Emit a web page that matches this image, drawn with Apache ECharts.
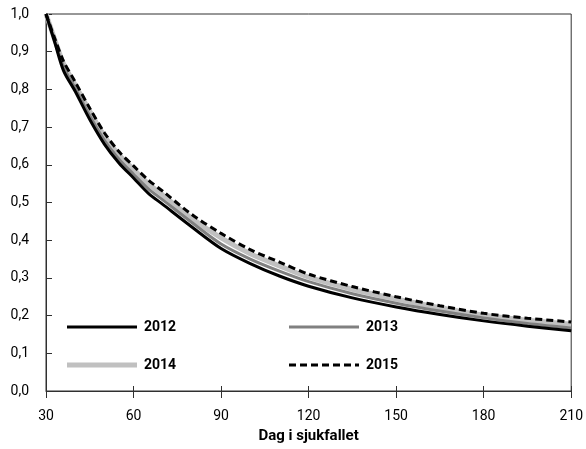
<!DOCTYPE html>
<html>
<head>
<meta charset="utf-8">
<script src="https://cdn.jsdelivr.net/npm/echarts@6/dist/echarts.min.js"></script>
<style>html,body{margin:0;padding:0;background:#fff}#c{width:586px;height:449px}</style>
</head>
<body>
<div id="c"></div>
<script>
var days = [30,33,36,40,45,50,55,60,65,70,80,90,100,110,120,135,150,165,180,195,210];
var s2012 = [1.0,0.925,0.85,0.795,0.72,0.655,0.605,0.565,0.525,0.495,0.435,0.378,0.338,0.305,0.278,0.247,0.223,0.203,0.186,0.172,0.160];
var s2013 = [1.0,0.928,0.86,0.803,0.73,0.665,0.615,0.575,0.537,0.507,0.447,0.39,0.35,0.318,0.29,0.258,0.233,0.212,0.194,0.179,0.167];
var s2014 = [1.0,0.932,0.868,0.812,0.742,0.676,0.626,0.588,0.55,0.52,0.458,0.406,0.364,0.332,0.302,0.270,0.244,0.221,0.201,0.188,0.177];
var s2015 = [1.0,0.935,0.875,0.82,0.75,0.685,0.635,0.597,0.56,0.53,0.468,0.418,0.375,0.342,0.31,0.277,0.25,0.226,0.206,0.193,0.183];
var xTicks = [30,60,90,120,150,180,210];
var yMin = 0, yMax = 1, yStep = 0.1;
var xTitle = 'Dag i sjukfallet';

function pairs(arr){ return days.map(function(d,i){ return [d, arr[i]]; }); }
var FONT = "Roboto,'Liberation Sans Narrow',sans-serif";
var chart = echarts.init(document.getElementById('c'), null, {renderer:'canvas'});
var DASH = 'path://M0,0h7v3h-7z M11,0h7v3h-7z M22,0h7v3h-7z M33,0h7v3h-7z M44,0h7v3h-7z M55,0h7v3h-7z M66,0h4v3h-4z';
function leg(name, left, top, icon, h, color){
  return {data:[{name:name, icon:icon}], left:left, top:top, padding:0, itemWidth:70, itemHeight:h,
    selectedMode:false, itemStyle:{color:color, borderWidth:0}, lineStyle:{width:0, opacity:0},
    textStyle:{fontFamily:FONT, fontWeight:'bold', fontSize:14, color:'#000', padding:[0,0,0,2]}};
}
var option = {
  animation:false,
  backgroundColor:'#fff',
  grid:{left:46, right:11, top:14, bottom:57, show:true, borderColor:'#303030', borderWidth:1},
  legend:[leg('2012',67,320,'rect',3,'#000'), leg('2013',289,320,'rect',3,'#808080'),
          leg('2014',67,358,'rect',5,'#c0c0c0'), leg('2015',289,358,DASH,3,'#000')],
  xAxis:[{
    type:'value', min:xTicks[0], max:xTicks[xTicks.length-1], interval:30,
    name:xTitle, nameLocation:'middle', nameGap:38,
    nameTextStyle:{fontFamily:FONT, fontWeight:'bold', fontSize:15, color:'#000'},
    axisLine:{lineStyle:{color:'#303030', width:1}},
    axisTick:{show:true, length:7, lineStyle:{color:'#303030'}},
    axisLabel:{fontFamily:FONT, fontSize:14, color:'#000', margin:18},
    splitLine:{show:false}
  },{
    type:'value', min:xTicks[0], max:xTicks[xTicks.length-1], interval:30, position:'bottom',
    axisLine:{show:false}, axisLabel:{show:false},
    axisTick:{show:true, inside:true, length:5, lineStyle:{color:'#303030'}},
    splitLine:{show:false}
  }],
  yAxis:{
    type:'value', min:yMin, max:yMax, interval:yStep,
    axisLine:{show:true, lineStyle:{color:'#303030', width:1}},
    axisTick:{show:true, inside:true, length:6, lineStyle:{color:'#303030'}},
    axisLabel:{fontFamily:FONT, fontSize:14, color:'#000', margin:17,
      formatter:function(v){ return v.toFixed(1).replace('.', ','); }},
    splitLine:{show:false}
  },
  series:[
    {name:'2014', type:'line', data:pairs(s2014), symbol:'none', smooth:0.3, lineStyle:{color:'#c0c0c0', width:5}, itemStyle:{color:'#c0c0c0'}, z:2},
    {name:'2013', type:'line', data:pairs(s2013), symbol:'none', smooth:0.3, lineStyle:{color:'#808080', width:3}, itemStyle:{color:'#808080'}, z:3},
    {name:'2012', type:'line', data:pairs(s2012), symbol:'none', smooth:0.3, lineStyle:{color:'#000', width:3}, itemStyle:{color:'#000'}, z:4},
    {name:'2015', type:'line', data:pairs(s2015), symbol:'none', smooth:0.3, lineStyle:{color:'#000', width:3, type:[7,4]}, itemStyle:{color:'#000'}, z:5}
  ]
};
chart.setOption(option);
</script>
</body>
</html>
